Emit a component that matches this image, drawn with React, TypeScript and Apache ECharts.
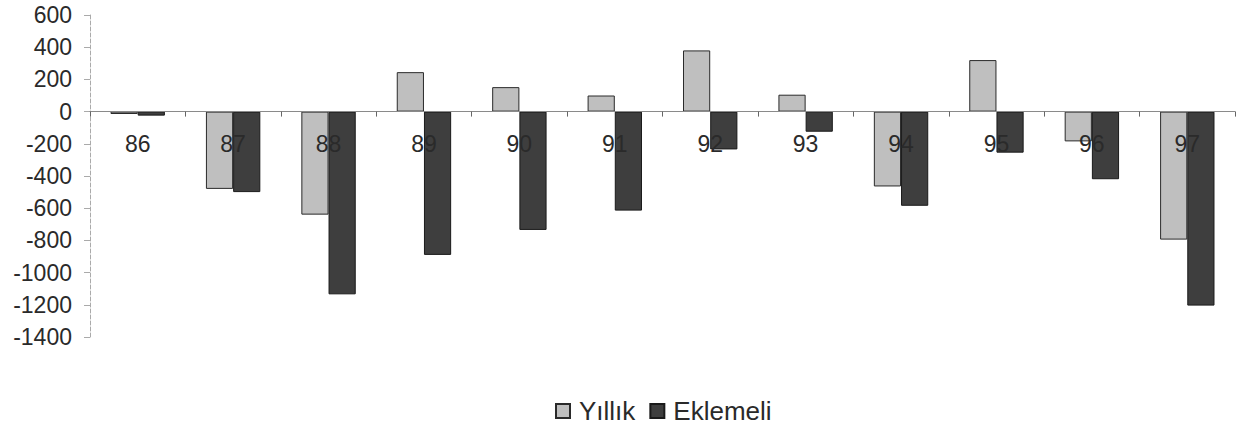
import React, { useEffect, useRef } from "react";
import * as echarts from "echarts";

const categories = ["86", "87", "88", "89", "90", "91", "92", "93", "94", "95", "96", "97"];
const yillik = [-15, -480, -640, 245, 152, 100, 380, 105, -465, 320, -185, -795];
const eklemeli = [-25, -500, -1135, -890, -735, -615, -235, -125, -585, -255, -420, -1205];
const seriesNames = ["Yıllık", "Eklemeli"];

const FONT = "'Liberation Sans', Arial, sans-serif";

export default function App() {
  const ref = useRef<HTMLDivElement>(null);
  useEffect(() => {
    const chart = echarts.init(ref.current!, null, { renderer: "svg" });
    chart.setOption({
      animation: false,
      backgroundColor: "#ffffff",
      textStyle: { fontFamily: FONT },
      grid: { left: 90, right: 7, top: 15, bottom: 91, containLabel: false },
      legend: {
        data: seriesNames,
        left: 550,
        top: 393,
        itemWidth: 14,
        itemHeight: 14,
        itemGap: 14,
        icon: "rect",
        textStyle: { fontSize: 26, color: "#2a2a2a", fontFamily: FONT, padding: [0, 0, 0, 4] },
      },
      xAxis: {
        type: "category",
        data: categories,
        z: 5,
        axisLine: { onZero: true, lineStyle: { color: "#8a8a8a", width: 1 } },
        axisTick: { show: true, alignWithLabel: false, length: 5, lineStyle: { color: "#666" } },
        axisLabel: { fontSize: 23, color: "#2a2a2a", margin: -205, fontFamily: FONT },
        splitLine: { show: false },
      },
      yAxis: {
        type: "value",
        min: -1400,
        max: 600,
        interval: 200,
        axisLine: { show: true, lineStyle: { color: "#aaaaaa", type: "dashed", width: 1 } },
        axisTick: { show: true, length: 6, lineStyle: { color: "#aaaaaa" } },
        axisLabel: {
          fontSize: 23,
          color: "#2a2a2a",
          margin: 18,
          fontFamily: FONT,
          formatter: (v: number) => String(v),
        },
        splitLine: { show: false },
      },
      series: [
        {
          name: seriesNames[0],
          type: "bar",
          data: yillik,
          barGap: "0%",
          barCategoryGap: "43%",
          itemStyle: { color: "#bfbfbf", borderColor: "#2a2a2a", borderWidth: 1 },
        },
        {
          name: seriesNames[1],
          type: "bar",
          data: eklemeli,
          barGap: "0%",
          barCategoryGap: "43%",
          itemStyle: { color: "#3e3e3e", borderColor: "#1a1a1a", borderWidth: 1 },
        },
      ],
    });
    return () => chart.dispose();
  }, []);
  return <div ref={ref} style={{ width: 1242, height: 428, position: "absolute", left: 0, top: 0 }} />;
}
